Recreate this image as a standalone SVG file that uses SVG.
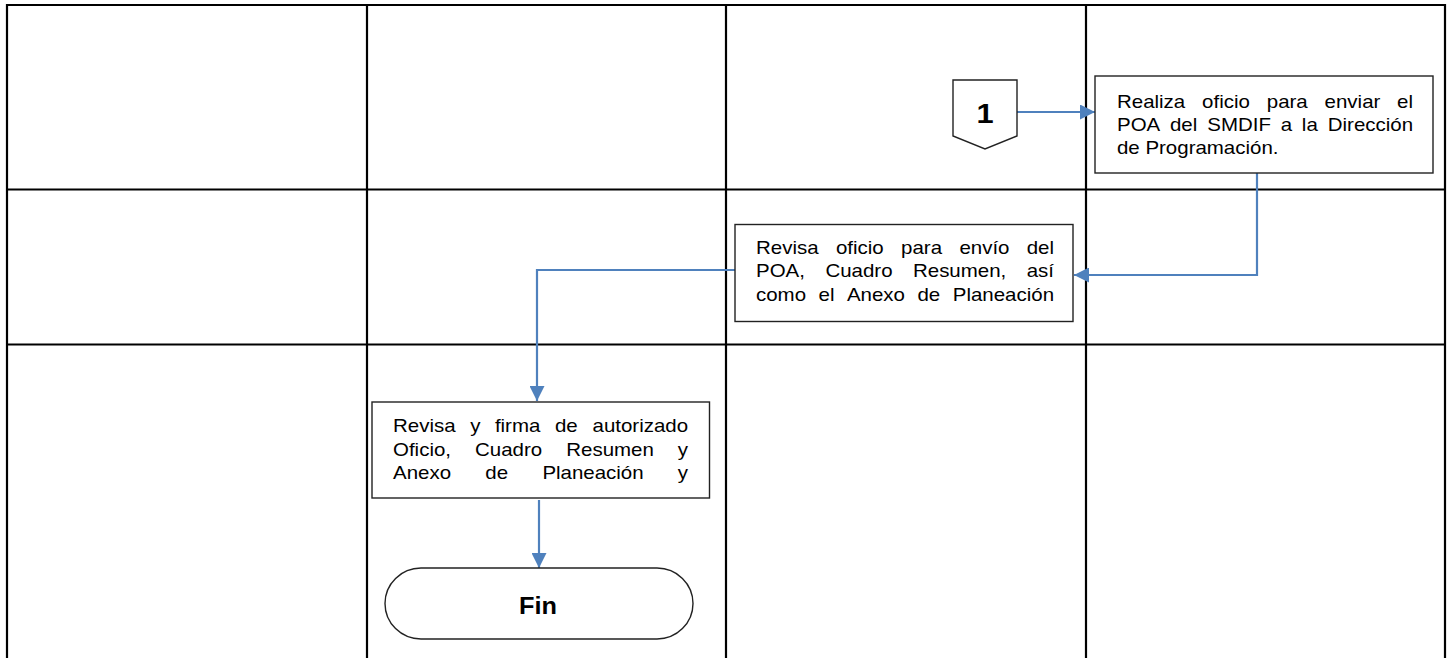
<svg xmlns="http://www.w3.org/2000/svg" width="1453" height="658" viewBox="0 0 1453 658">
<style>
.grid{stroke:#000;stroke-width:2.2;fill:none}
.box{fill:#fff;stroke:#222;stroke-width:1.4}
.conn{stroke:#4F81BD;stroke-width:2.2;fill:none}
.t{font-family:"Liberation Sans",Arial,Helvetica,sans-serif;font-size:18.6px;fill:#000}
.e{text-anchor:end}
.b{font-family:"Liberation Sans",Arial,Helvetica,sans-serif;font-weight:bold;fill:#000;text-anchor:middle}
</style>
<defs>
<marker id="arr" markerUnits="userSpaceOnUse" markerWidth="15" markerHeight="15" refX="15" refY="7.5" orient="auto">
<path d="M0,0 L15,7.5 L0,15 z" fill="#4F81BD"/>
</marker>
</defs>
<rect width="1453" height="658" fill="#fff"/>
<g id="grid">
<path class="grid" d="M7,658 V5 H1445 V658 M367,5 V658 M726,5 V658 M1086,5 V658 M7,189.5 H1445 M7,344.5 H1445"/>
</g>
<g id="connectors">
<path class="conn" d="M1017,112 H1095" marker-end="url(#arr)"/>
<path class="conn" d="M1257,173 V275 H1074" marker-end="url(#arr)"/>
<path class="conn" d="M735,270 H537 V401" marker-end="url(#arr)"/>
<path class="conn" d="M539,500 V568" marker-end="url(#arr)"/>
</g>
<g id="connector1">
<path class="box" stroke="#000" stroke-width="1.6" d="M953,80 H1017 V136 L985,149 L953,136 Z"/>
<g transform="scale(1.1 1)"><text class="b" x="895.5" y="123.3" font-size="28">1</text></g>
</g>
<g id="node1">
<rect class="box" x="1095" y="76" width="338" height="97"/>
<g transform="scale(1.1 1)">
<text class="t" x="1015.45" y="107.7">Realiza</text>
<text class="t" x="1092.8" y="107.7">oficio</text>
<text class="t" x="1151.6" y="107.7">para</text>
<text class="t" x="1204.2" y="107.7">enviar</text>
<text class="t e" x="1284.6" y="107.7">el</text>
<text class="t" x="1015.45" y="131">POA</text>
<text class="t" x="1063.6" y="131">del</text>
<text class="t" x="1097.5" y="131">SMDIF</text>
<text class="t" x="1164.3" y="131">a</text>
<text class="t" x="1183.5" y="131">la</text>
<text class="t e" x="1284.6" y="131">Dirección</text>
<text class="t" x="1015.45" y="154.3">de Programación.</text>
</g>
</g>
<g id="node2">
<rect class="box" x="735" y="224.5" width="338" height="97"/>
<g transform="scale(1.1 1)">
<text class="t" x="687.3" y="254">Revisa</text>
<text class="t" x="759.9" y="254">oficio</text>
<text class="t" x="819.2" y="254">para</text>
<text class="t" x="872.2" y="254">envío</text>
<text class="t e" x="958.2" y="254">del</text>
<text class="t" x="687.3" y="277.3">POA,</text>
<text class="t" x="750.4" y="277.3">Cuadro</text>
<text class="t" x="830" y="277.3">Resumen,</text>
<text class="t e" x="958.2" y="277.3">así</text>
<text class="t" x="687.3" y="300.6">como</text>
<text class="t" x="744.1" y="300.6">el</text>
<text class="t" x="769.9" y="300.6">Anexo</text>
<text class="t" x="834" y="300.6">de</text>
<text class="t e" x="958.2" y="300.6">Planeación</text>
</g>
</g>
<g id="node3">
<rect class="box" x="372" y="402" width="337.5" height="96"/>
<g transform="scale(1.1 1)">
<text class="t" x="357.3" y="432.5">Revisa</text>
<text class="t" x="427.4" y="432.5">y</text>
<text class="t" x="449.9" y="432.5">firma</text>
<text class="t" x="504.5" y="432.5">de</text>
<text class="t e" x="625.5" y="432.5">autorizado</text>
<text class="t" x="357.3" y="456">Oficio,</text>
<text class="t" x="431.9" y="456">Cuadro</text>
<text class="t" x="514.8" y="456">Resumen</text>
<text class="t e" x="625.5" y="456">y</text>
<text class="t" x="357.3" y="479.5">Anexo</text>
<text class="t" x="441.2" y="479.5">de</text>
<text class="t" x="493.1" y="479.5">Planeación</text>
<text class="t e" x="625.5" y="479.5">y</text>
</g>
</g>
<g id="end">
<rect class="box" stroke="#000" x="385" y="568" width="308" height="71" rx="36" ry="35.5"/>
<g transform="scale(1.1 1)"><text class="b" x="489.1" y="614" font-size="23">Fin</text></g>
</g>
</svg>
